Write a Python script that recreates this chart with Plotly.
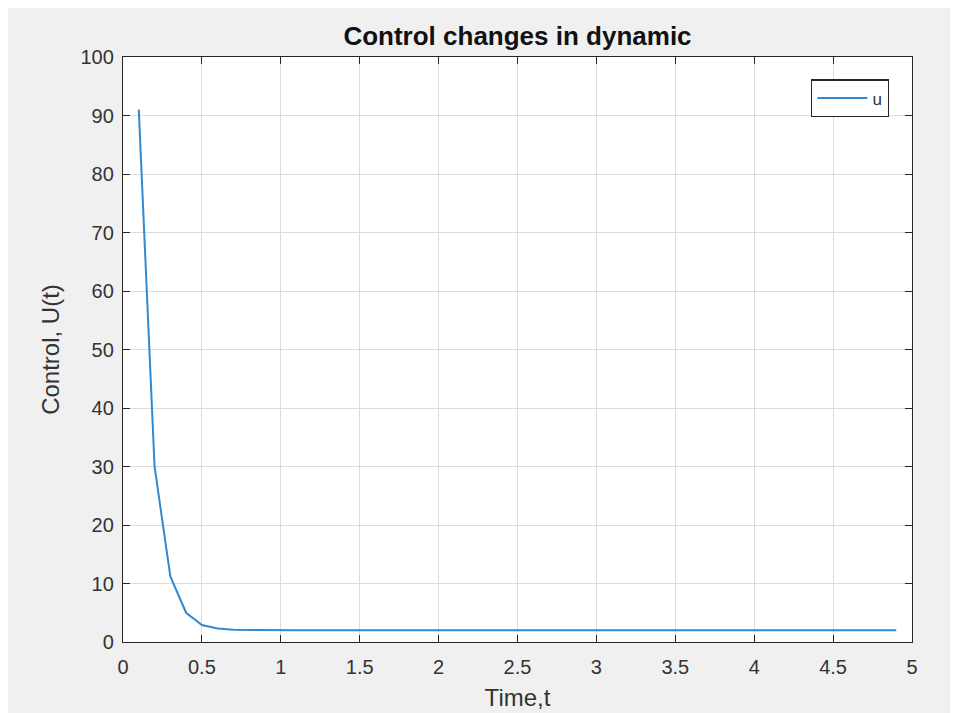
import plotly.graph_objects as go

t = [0.1, 0.2, 0.3, 0.4, 0.5, 0.6, 0.7, 0.8, 0.9, 1.0,
     1.1, 1.2, 1.3, 1.4, 1.5, 1.6, 1.7, 1.8, 1.9, 2.0,
     2.1, 2.2, 2.3, 2.4, 2.5, 2.6, 2.7, 2.8, 2.9, 3.0,
     3.1, 3.2, 3.3, 3.4, 3.5, 3.6, 3.7, 3.8, 3.9, 4.0,
     4.1, 4.2, 4.3, 4.4, 4.5, 4.6, 4.7, 4.8, 4.9]
u = [91.0, 30.0, 11.2, 5.0, 2.9, 2.3, 2.1, 2.05, 2.02, 2.0,
     2.0, 2.0, 2.0, 2.0, 2.0, 2.0, 2.0, 2.0, 2.0, 2.0,
     2.0, 2.0, 2.0, 2.0, 2.0, 2.0, 2.0, 2.0, 2.0, 2.0,
     2.0, 2.0, 2.0, 2.0, 2.0, 2.0, 2.0, 2.0, 2.0, 2.0,
     2.0, 2.0, 2.0, 2.0, 2.0, 2.0, 2.0, 2.0, 2.0]

x_ticks = [0, 0.5, 1, 1.5, 2, 2.5, 3, 3.5, 4, 4.5, 5]
x_labels = ["0", "0.5", "1", "1.5", "2", "2.5", "3", "3.5", "4", "4.5", "5"]
y_ticks = [0, 10, 20, 30, 40, 50, 60, 70, 80, 90, 100]

W, H = 950, 705

fig = go.Figure()
fig.add_trace(go.Scatter(x=t, y=u, mode="lines", name="u",
                         line=dict(color="#3189d0", width=2)))

font_fam = "Liberation Sans, Arial, sans-serif"
axis_common = dict(
    showgrid=True, gridcolor="#dcdcdc", gridwidth=1,
    showline=True, linecolor="#262626", linewidth=1.3, mirror="ticks",
    ticks="inside", ticklen=7, tickcolor="#262626",
    tickfont=dict(family=font_fam, size=20, color="#333333"),
    zeroline=False, automargin=False,
)

fig.update_layout(
    width=W, height=H,
    margin=dict(l=115, r=46, t=49, b=71),
    paper_bgcolor="#f0f0f0", plot_bgcolor="white",
    title=dict(text="<b>Control changes in dynamic</b>", x=0.5, xref="paper",
               y=1 - 28 / H, yref="container", yanchor="middle",
               font=dict(family=font_fam, size=26, color="#111111")),
    xaxis=dict(range=[0, 5], tickvals=x_ticks, ticktext=x_labels,
               ticklabelstandoff=7,
               title=dict(text="Time,t", standoff=12,
                          font=dict(family=font_fam, size=24, color="#333333")),
               **axis_common),
    yaxis=dict(range=[0, 100], tickvals=y_ticks,
               ticklabelstandoff=4,
               title=dict(text="Control, U(t)", standoff=14,
                          font=dict(family=font_fam, size=24, color="#333333")),
               **axis_common),
    legend=dict(x=0.971, y=0.962, xanchor="right", yanchor="top",
                bgcolor="white", bordercolor="#262626", borderwidth=1.3,
                itemwidth=50, tracegroupgap=0,
                font=dict(family=font_fam, size=17, color="#333333")),
    showlegend=True,
)

fig.write_html("out.html")
